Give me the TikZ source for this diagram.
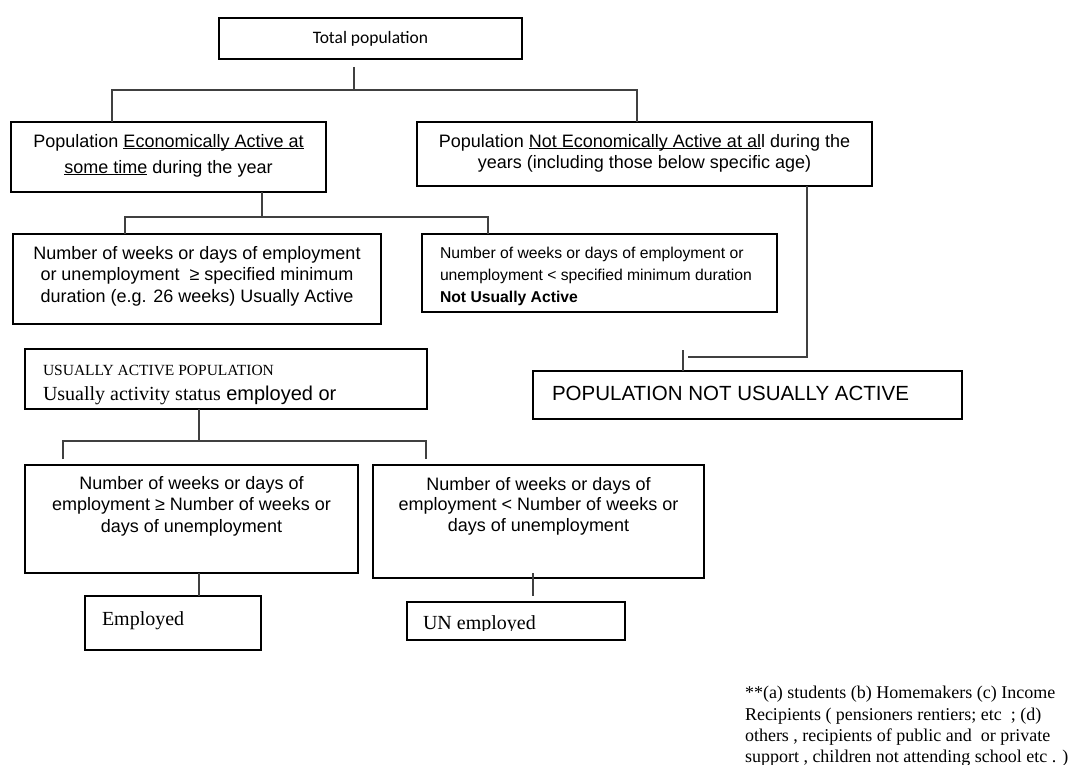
\documentclass[tikz,border=0pt]{standalone}
\usepackage{fontspec}
\setmainfont{Liberation Sans}
\newfontfamily\tnr{Liberation Serif}
\newfontfamily\calfont{Carlito}
\newcommand{\myul}[1]{\setbox0\hbox{#1}\rlap{\rule[-2.2pt]{\wd0}{0.9pt}}\box0\relax}
\begin{document}
\begin{tikzpicture}[x=1pt,y=-1pt,
  bx/.style={draw=black, line width=1.3pt, inner sep=0pt, outer sep=0pt, rectangle},
  bxthick/.style={bx, line width=2.1pt},
  ln/.style={draw=black!75, line width=1.3pt},
  txt/.style={inner sep=0pt, outer sep=0pt, align=center},
  ar/.style={font=\fontsize{18}{21.5}\selectfont}]
\useasboundingbox (0,0) rectangle (1069,765);
\fill[white] (0,0) rectangle (1069,765);

% boxes
\node[bx, minimum width=303pt, minimum height=41pt] (tot) at (370.5,38.5) {\calfont\fontsize{17.5}{20}\selectfont Total population};
\node[bxthick, minimum width=315pt, minimum height=70pt] (L) at (168.5,157) {};
\node[bx, minimum width=455pt, minimum height=64pt] (R) at (644.5,154) {};
\node[bx, minimum width=368pt, minimum height=90pt] (A) at (197,279) {};
\node[bx, minimum width=355pt, minimum height=78pt] (B) at (599.5,273) {};
\node[bx, minimum width=429pt, minimum height=48pt] (P) at (747.5,395) {};
\node[bx, minimum width=402pt, minimum height=60pt] (U) at (226,379) {};
\node[bx, minimum width=333pt, minimum height=108pt] (C) at (191.5,519) {};
\node[bx, minimum width=331pt, minimum height=113pt] (D) at (538.5,521.5) {};
\node[bxthick, minimum width=176pt, minimum height=54pt] (E) at (173,623) {};
\node[bx, minimum width=218pt, minimum height=38pt] (N) at (516,621) {};

% texts
\node[txt, anchor=north, font=\fontsize{18}{26}\selectfont] (Lt) at (168.5,134)
  {Population \myul{Economically Active at}\\ \myul{some time} during the year};
\node[txt, anchor=north, font=\fontsize{18}{21}\selectfont] (Rt) at (644.5,134)
  {Population \myul{Not Economically Active at al}l during the\\ years (including those below specific age)};
\node[txt, anchor=north, ar] (At) at (197,246)
  {Number of weeks or days of employment\\ or unemployment \ ≥ specified minimum\\ duration (e.g. 26 weeks) Usually Active};
\node[txt, anchor=north west, align=left, font=\fontsize{15.7}{22}\selectfont] (Bt) at (440,247)
  {Number of weeks or days of employment or\\ unemployment < specified minimum duration\\ \textbf{Not Usually Active}};
\node[txt, anchor=west, font=\fontsize{20.5}{24}\selectfont] (Pt) at (552,393) {POPULATION NOT USUALLY ACTIVE};
\node[txt, anchor=base west, font=\tnr\fontsize{15.5}{18}\selectfont] (Ut1) at (43,375) {USUALLY ACTIVE POPULATION};
\node[txt, anchor=base west, font=\fontsize{20}{24}\selectfont] (Ut2) at (43,400) {{\tnr Usually activity status} employed or};
\node[txt, anchor=north, ar] (Ct) at (191.5,476)
  {Number of weeks or days of\\ employment ≥ Number of weeks or\\ days of unemployment};
\node[txt, anchor=north, font=\fontsize{18}{20.5}\selectfont] (Dt) at (538.5,477)
  {Number of weeks or days of\\ employment < Number of weeks or\\ days of unemployment};
\node[txt, anchor=base west, font=\tnr\fontsize{20}{24}\selectfont] (Et) at (102,625) {Employed};
\begin{scope}
  \clip (407,602) rectangle (625,630.5);
  \node[txt, anchor=base west, font=\tnr\fontsize{20}{24}\selectfont] (Nt) at (423,629) {UN employed};
\end{scope}
\node[txt, anchor=north west, align=left, font=\tnr\fontsize{18}{21.3}\selectfont] (foot) at (745,686.5)
  {**(a) students (b) Homemakers (c) Income\\
   Recipients ( pensioners rentiers; etc \ ; (d)\\
   others , recipients of public and \ or private\\
   support , children not attending school etc . )};

% connectors
\coordinate (t1) at (354,67);
\coordinate (t2) at (354,90);
\coordinate (lL) at (112,122);
\coordinate (lR) at (637,122);
\draw[ln] (t1) -- (t2);
\draw[ln] (lL) |- (t2) -| (lR);

\coordinate (l1) at (262,192);
\coordinate (l2) at (262,217);
\coordinate (aT) at (125,234);
\coordinate (bT) at (488,234);
\draw[ln] (l1) -- (l2);
\draw[ln] (aT) |- (l2) -| (bT);

\coordinate (r1) at (807,186);
\coordinate (r2) at (688,357);
\draw[ln] (r1) |- (r2);
\coordinate (p1) at (683,350);
\coordinate (p2) at (683,371);
\draw[ln] (p1) -- (p2);

\coordinate (u1) at (199,409);
\coordinate (u2) at (199,441);
\coordinate (cT) at (63,459);
\coordinate (dT) at (426,459);
\draw[ln] (u1) -- (u2);
\draw[ln] (cT) |- (u2) -| (dT);

\coordinate (c1) at (199,573);
\coordinate (e1) at (199,596);
\draw[ln] (c1) -- (e1);
\coordinate (d1) at (533,573);
\coordinate (n1) at (533,596);
\draw[ln] (d1) -- (n1);
\end{tikzpicture}
\end{document}
